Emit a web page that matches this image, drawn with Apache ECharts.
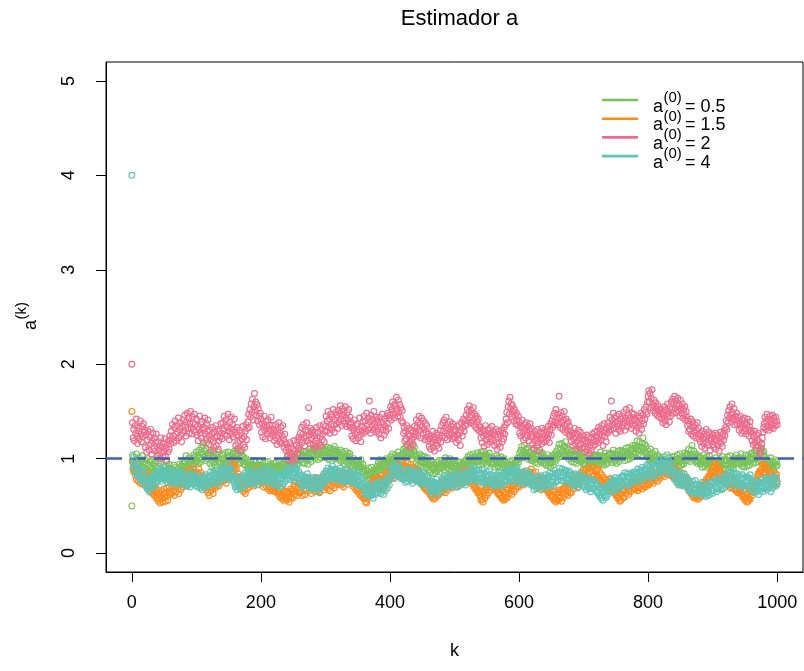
<!DOCTYPE html>
<html>
<head>
<meta charset="utf-8">
<script src="https://cdn.jsdelivr.net/npm/echarts@6/dist/echarts.min.js"></script>
<style>
  html, body { margin: 0; padding: 0; background: #ffffff; }
  #chart { width: 804px; height: 671px; }
</style>
</head>
<body>
<div id="chart"></div>
<script>
// ---- data -------------------------------------------------------------
const chartTitle = 'Estimador a';
const xTicks = [0, 200, 400, 600, 800, 1000];
const yTicks = [0, 1, 2, 3, 4, 5];
const trueValue = 1;
const startValues = ['0.5', '1.5', '2', '4'];

// a^(k) chains, k = 0 .. 1000, one per starting value a^(0)
const chainStart05 = [
0.50,0.97,0.89,1.02,0.93,0.86,0.99,1.05,0.91,0.96,0.88,1.01,0.94,0.85,0.98,0.92,1.03,0.90,0.96,0.87,
0.99,0.90,0.84,0.95,1.00,0.88,0.93,0.83,0.97,0.91,0.86,0.98,0.89,0.94,0.85,0.96,0.92,0.87,1.01,0.90,
0.83,0.92,0.86,0.79,0.90,0.95,0.84,0.88,0.81,0.93,0.87,0.80,0.91,0.85,0.96,0.82,0.89,0.84,0.94,0.87,
0.90,0.82,0.88,0.79,0.85,0.93,0.81,0.87,0.78,0.91,0.84,0.89,0.80,0.86,0.94,0.83,0.88,0.92,0.85,0.95,
0.91,0.98,0.88,0.96,1.03,0.92,0.99,0.87,0.95,1.01,0.90,0.97,0.93,0.86,1.00,0.94,1.04,0.96,1.02,0.98,
1.07,0.97,1.04,0.95,1.09,1.01,0.96,1.06,1.12,0.99,1.05,1.14,1.02,1.08,0.98,1.11,1.17,1.04,1.00,1.06,
1.03,0.95,1.06,0.98,0.92,1.02,1.08,0.96,1.01,0.93,1.05,0.99,0.91,1.04,0.97,1.07,0.94,1.00,0.96,0.90,
0.99,1.04,0.93,1.00,0.95,1.06,0.97,0.91,1.03,1.07,0.96,0.92,1.02,0.98,0.90,1.01,1.05,0.94,1.00,1.08,
1.06,0.98,1.04,1.10,0.99,1.05,0.95,1.08,1.01,0.96,1.03,1.09,0.97,1.02,0.94,0.99,0.93,1.00,0.96,0.90,
0.95,0.88,0.93,0.86,0.97,0.91,0.84,0.94,0.89,0.98,0.87,0.92,0.96,0.85,0.90,0.83,0.93,0.89,0.97,0.91,
0.86,0.93,0.88,0.95,0.84,0.91,0.87,0.96,0.89,0.83,0.92,0.97,0.86,0.90,0.85,0.94,0.88,0.92,0.84,0.91,
0.95,0.87,0.83,0.92,0.96,0.88,0.84,0.93,0.89,0.97,0.86,0.91,0.85,0.94,0.90,0.96,0.87,0.93,0.98,0.91,
0.99,0.93,1.02,0.94,0.90,0.98,1.03,0.95,0.91,1.00,1.05,0.96,0.92,1.01,0.97,0.89,0.99,1.04,0.95,1.06,
0.98,1.05,1.09,0.99,1.03,0.96,1.07,1.01,0.95,1.04,1.08,0.98,1.02,0.94,1.06,1.10,1.00,1.05,0.97,1.08,
1.02,1.10,1.04,1.13,1.00,1.08,1.12,1.03,1.07,0.99,1.09,1.05,1.14,1.01,1.06,1.11,1.04,1.08,1.02,1.10,
1.08,1.01,1.09,1.12,1.03,0.99,1.07,1.11,1.02,1.06,0.98,1.10,1.04,1.08,1.13,1.00,1.05,1.09,1.01,1.07,
1.06,0.99,1.04,1.09,0.97,1.02,1.07,0.98,1.05,0.95,1.01,1.08,0.97,1.03,0.99,1.06,0.96,1.02,1.05,0.98,
0.99,0.93,0.97,0.91,1.00,0.94,0.89,0.98,0.92,0.96,0.88,0.97,0.93,0.90,0.95,0.99,0.91,0.87,0.94,0.89,
0.86,0.81,0.88,0.83,0.78,0.87,0.82,0.90,0.84,0.79,0.85,0.91,0.80,0.86,0.83,0.77,0.88,0.84,0.81,0.89,
0.92,0.87,0.96,0.90,0.99,0.93,0.88,0.97,0.94,0.89,0.98,0.92,0.86,0.95,1.00,0.91,0.96,0.93,0.99,0.95,
0.97,1.02,0.94,0.99,1.05,0.96,0.92,1.01,1.04,0.95,0.99,0.91,1.03,1.07,0.98,0.94,1.00,1.04,0.96,1.02,
1.05,1.10,1.01,1.07,1.12,1.04,1.09,1.15,1.06,1.02,1.11,1.08,1.17,1.05,1.10,1.14,1.03,1.08,1.12,1.04,
1.02,0.96,1.04,0.99,0.93,1.01,1.05,0.97,0.92,1.00,1.03,0.95,0.91,0.99,1.02,0.94,0.97,0.90,1.01,0.96,
0.93,0.88,0.95,0.86,0.91,0.97,0.89,0.84,0.94,0.90,0.85,0.93,0.96,0.87,0.92,0.89,0.98,0.91,0.86,0.95,
0.98,0.91,0.96,0.92,0.88,0.97,1.01,0.93,0.90,0.99,0.94,0.89,0.96,1.00,0.92,0.87,0.95,0.91,0.98,0.93,
0.89,0.95,0.87,0.84,0.93,0.97,0.88,0.91,0.86,0.96,0.90,0.85,0.94,0.89,0.92,0.97,0.88,0.95,0.99,0.93,
0.96,1.02,0.94,0.99,1.04,0.95,0.92,1.01,0.97,1.05,0.98,0.93,1.02,0.96,1.00,1.06,0.97,0.94,1.03,0.99,
1.03,1.07,0.98,0.95,1.04,1.08,1.01,0.96,1.05,0.99,0.94,1.03,0.97,1.02,1.06,0.99,0.95,1.01,0.96,1.00,
0.94,1.00,0.95,0.91,0.99,1.03,0.96,0.92,1.01,0.97,0.90,0.98,1.02,0.95,0.91,0.99,0.93,1.00,0.96,0.90,
0.94,0.88,0.95,0.90,0.85,0.93,0.97,0.89,0.86,0.94,0.98,0.91,0.87,0.95,0.90,0.96,0.92,0.98,1.01,0.96,
1.00,1.06,1.02,1.09,1.13,1.04,1.01,1.08,1.14,1.06,1.02,1.10,1.04,1.11,1.03,0.99,1.07,1.01,1.06,0.98,
1.04,0.98,1.05,1.09,1.00,0.96,1.03,1.08,0.99,0.95,1.04,1.07,0.99,0.97,1.05,0.98,1.06,1.01,0.95,1.02,
0.96,1.01,0.93,0.99,1.04,0.97,0.92,1.00,0.95,0.91,0.99,1.03,0.96,0.93,1.01,1.05,0.97,1.03,1.08,1.00,
1.04,1.11,1.15,1.05,1.02,1.10,1.16,1.07,1.03,1.12,1.05,1.13,1.18,1.08,1.03,1.11,1.05,1.00,1.09,1.03,
1.05,0.97,1.03,1.09,1.00,0.96,1.04,1.08,0.99,0.95,1.03,1.07,0.98,1.05,1.10,1.01,0.97,1.06,0.99,0.95,
1.02,0.94,1.00,0.93,0.90,0.98,1.03,0.95,0.91,0.99,1.04,0.96,0.92,1.01,0.94,0.99,1.04,0.96,1.02,0.97,
1.04,0.96,1.03,0.98,0.94,1.02,1.07,0.99,0.95,1.03,0.97,0.93,1.01,1.06,0.98,0.94,1.02,0.96,1.04,0.99,
1.05,0.99,1.06,1.00,0.96,1.04,1.09,1.01,0.97,1.05,0.99,0.95,1.03,1.08,1.00,0.97,1.04,1.09,1.01,1.06,
1.08,1.01,1.08,1.02,0.98,1.06,1.11,1.03,0.99,1.07,1.12,1.04,1.00,1.09,1.02,1.10,1.14,1.05,1.02,1.11,
1.14,1.06,1.12,1.19,1.09,1.05,1.13,1.18,1.08,1.04,1.12,1.16,1.22,1.11,1.07,1.15,1.06,1.13,1.05,1.02,
1.08,1.00,0.97,1.05,1.10,1.01,0.97,1.06,0.99,0.95,1.03,1.08,1.00,0.96,1.04,0.98,0.94,1.02,0.96,1.00,
0.93,0.99,0.92,0.89,0.97,1.02,0.94,0.90,0.98,0.92,0.88,0.96,1.01,0.93,0.98,0.91,0.97,1.02,0.94,0.99,
0.95,1.02,0.94,0.91,0.99,1.04,0.96,0.92,1.00,1.05,0.97,0.93,1.02,0.95,1.00,0.94,1.01,1.06,0.98,1.03,
1.05,0.98,1.05,1.10,1.01,0.97,1.04,1.09,1.14,1.05,1.00,1.08,1.02,0.97,1.05,0.99,0.95,1.03,0.97,1.02,
1.00,0.94,1.01,0.95,0.91,0.99,1.04,0.96,0.92,1.00,0.95,1.02,0.94,0.90,0.98,1.03,0.95,0.91,0.99,0.94,
0.92,0.98,0.91,0.88,0.96,1.01,0.93,0.89,0.97,0.91,0.87,0.95,1.00,0.92,0.97,1.02,0.94,0.90,0.98,0.93,
0.99,0.93,0.98,1.02,0.94,0.90,0.98,1.03,0.95,0.91,0.99,0.93,0.89,0.97,1.01,0.94,0.99,1.04,0.96,1.00,
0.95,1.01,0.94,1.00,1.05,0.97,0.92,1.00,0.95,0.91,0.99,1.04,0.96,0.92,1.00,1.03,0.97,0.93,1.01,1.05,
1.00,1.06,0.99,0.95,1.03,1.08,1.00,0.96,1.04,1.09,1.01,0.97,1.05,0.99,1.06,1.11,1.15,1.07,1.02,1.08,
1.03,0.96,0.92,1.00,0.94,0.90,0.98,0.92,0.88,0.96,1.01,0.93,0.89,0.97,0.91,0.87,0.95,0.99,0.92,0.97,
0.93
];

const chainStart15 = [
1.50,0.98,0.90,0.86,0.95,0.87,0.82,0.78,0.88,0.84,0.76,0.86,0.79,0.74,0.84,0.77,0.83,0.73,0.81,0.75,
0.82,0.85,0.76,0.72,0.82,0.74,0.69,0.79,0.71,0.66,0.76,0.68,0.63,0.73,0.65,0.61,0.70,0.62,0.58,0.67,
0.63,0.55,0.64,0.57,0.53,0.61,0.66,0.58,0.54,0.63,0.68,0.59,0.55,0.64,0.69,0.60,0.56,0.65,0.70,0.62,
0.64,0.72,0.63,0.70,0.76,0.66,0.61,0.71,0.74,0.65,0.73,0.78,0.68,0.63,0.72,0.77,0.67,0.75,0.80,0.70,
0.74,0.82,0.73,0.80,0.86,0.76,0.71,0.81,0.85,0.75,0.83,0.88,0.78,0.74,0.84,0.89,0.79,0.76,0.85,0.77,
0.86,0.78,0.74,0.84,0.89,0.79,0.75,0.85,0.77,0.72,0.82,0.74,0.70,0.80,0.72,0.67,0.77,0.69,0.64,0.74,
0.61,0.70,0.75,0.66,0.76,0.68,0.63,0.73,0.78,0.69,0.79,0.71,0.80,0.84,0.75,0.71,0.81,0.86,0.76,0.83,
0.77,0.85,0.76,0.84,0.89,0.79,0.74,0.84,0.88,0.78,0.86,0.91,0.81,0.89,0.94,0.84,0.92,0.97,0.87,0.93,
0.90,0.82,0.89,0.81,0.76,0.84,0.76,0.71,0.81,0.73,0.68,0.78,0.70,0.65,0.75,0.67,0.63,0.73,0.77,0.68,
0.75,0.79,0.70,0.78,0.83,0.73,0.81,0.86,0.76,0.71,0.81,0.85,0.75,0.83,0.88,0.78,0.73,0.83,0.76,0.84,
0.82,0.74,0.83,0.75,0.70,0.80,0.85,0.75,0.71,0.81,0.73,0.68,0.78,0.70,0.66,0.76,0.68,0.75,0.66,0.74,
0.66,0.74,0.65,0.73,0.77,0.67,0.63,0.72,0.65,0.60,0.70,0.62,0.58,0.68,0.60,0.56,0.66,0.58,0.65,0.57,
0.64,0.56,0.65,0.58,0.54,0.64,0.68,0.59,0.66,0.58,0.67,0.72,0.62,0.70,0.75,0.65,0.61,0.70,0.74,0.64,
0.72,0.64,0.73,0.65,0.61,0.71,0.76,0.66,0.62,0.72,0.77,0.67,0.75,0.80,0.70,0.66,0.75,0.68,0.63,0.73,
0.76,0.68,0.77,0.69,0.65,0.75,0.80,0.70,0.66,0.76,0.68,0.64,0.74,0.79,0.69,0.77,0.82,0.72,0.67,0.77,
0.70,0.78,0.83,0.73,0.68,0.78,0.71,0.66,0.76,0.81,0.71,0.79,0.84,0.74,0.69,0.79,0.72,0.80,0.85,0.75,
0.81,0.73,0.82,0.87,0.77,0.72,0.82,0.74,0.70,0.80,0.85,0.75,0.83,0.88,0.78,0.73,0.83,0.76,0.86,0.77,
0.82,0.74,0.83,0.75,0.70,0.80,0.72,0.67,0.77,0.69,0.65,0.75,0.67,0.62,0.72,0.64,0.60,0.70,0.62,0.58,
0.67,0.58,0.54,0.63,0.53,0.57,0.66,0.70,0.61,0.69,0.73,0.64,0.72,0.76,0.67,0.75,0.79,0.70,0.77,0.69,
0.76,0.80,0.71,0.67,0.76,0.79,0.70,0.78,0.82,0.73,0.69,0.78,0.81,0.72,0.80,0.84,0.75,0.83,0.87,0.78,
0.85,0.89,0.80,0.88,0.92,0.83,0.79,0.88,0.91,0.82,0.90,0.94,0.85,0.81,0.90,0.93,0.84,0.92,0.96,0.87,
0.89,0.93,0.84,0.80,0.89,0.92,0.83,0.91,0.95,0.86,0.82,0.91,0.94,0.85,0.81,0.90,0.83,0.79,0.88,0.80,
0.88,0.81,0.89,0.80,0.77,0.86,0.78,0.74,0.83,0.75,0.72,0.81,0.73,0.69,0.78,0.70,0.67,0.76,0.68,0.65,
0.74,0.66,0.62,0.71,0.63,0.59,0.68,0.60,0.57,0.66,0.58,0.67,0.71,0.62,0.70,0.61,0.69,0.73,0.64,0.72,
0.66,0.74,0.65,0.73,0.77,0.68,0.64,0.73,0.76,0.67,0.75,0.79,0.70,0.78,0.82,0.73,0.69,0.78,0.81,0.72,
0.80,0.72,0.81,0.73,0.70,0.79,0.83,0.74,0.82,0.86,0.77,0.73,0.82,0.85,0.76,0.84,0.88,0.79,0.75,0.84,
0.87,0.79,0.88,0.80,0.76,0.85,0.77,0.73,0.82,0.74,0.70,0.79,0.71,0.67,0.76,0.68,0.64,0.73,0.65,0.62,
0.60,0.56,0.65,0.57,0.54,0.63,0.67,0.58,0.66,0.70,0.61,0.69,0.73,0.64,0.72,0.76,0.67,0.75,0.79,0.70,
0.77,0.69,0.78,0.70,0.66,0.75,0.67,0.63,0.72,0.64,0.61,0.70,0.62,0.58,0.67,0.59,0.56,0.65,0.57,0.64,
0.58,0.67,0.59,0.68,0.72,0.63,0.71,0.75,0.66,0.62,0.71,0.74,0.65,0.73,0.77,0.68,0.76,0.80,0.71,0.79,
0.70,0.78,0.82,0.73,0.81,0.85,0.76,0.72,0.81,0.84,0.75,0.83,0.87,0.78,0.74,0.83,0.86,0.77,0.85,0.89,
0.80,0.76,0.85,0.77,0.73,0.82,0.86,0.77,0.73,0.69,0.78,0.70,0.79,0.71,0.67,0.76,0.80,0.71,0.68,0.77,
0.79,0.71,0.67,0.76,0.68,0.64,0.73,0.65,0.61,0.70,0.62,0.59,0.68,0.60,0.56,0.65,0.57,0.54,0.63,0.56,
0.64,0.56,0.65,0.58,0.67,0.59,0.55,0.64,0.68,0.59,0.67,0.71,0.62,0.70,0.74,0.65,0.61,0.70,0.73,0.64,
0.72,0.64,0.73,0.77,0.68,0.76,0.80,0.71,0.79,0.83,0.74,0.70,0.79,0.82,0.73,0.81,0.85,0.76,0.84,0.88,
0.83,0.75,0.84,0.88,0.79,0.76,0.85,0.89,0.80,0.77,0.86,0.90,0.81,0.78,0.87,0.91,0.82,0.78,0.87,0.80,
0.88,0.80,0.89,0.81,0.77,0.86,0.78,0.74,0.83,0.75,0.71,0.80,0.72,0.69,0.78,0.70,0.77,0.69,0.66,0.75,
0.78,0.70,0.79,0.71,0.67,0.76,0.68,0.64,0.73,0.65,0.61,0.70,0.62,0.58,0.67,0.59,0.55,0.64,0.56,0.63,
0.66,0.58,0.67,0.59,0.68,0.72,0.63,0.71,0.75,0.66,0.62,0.71,0.74,0.65,0.73,0.77,0.68,0.76,0.68,0.75,
0.67,0.75,0.79,0.70,0.66,0.75,0.78,0.69,0.77,0.81,0.72,0.68,0.77,0.80,0.71,0.79,0.70,0.78,0.82,0.73,
0.81,0.72,0.80,0.84,0.75,0.83,0.87,0.78,0.74,0.83,0.86,0.77,0.85,0.89,0.80,0.76,0.85,0.88,0.79,0.87,
0.91,0.82,0.90,0.94,0.85,0.81,0.90,0.93,0.84,0.92,0.96,0.87,0.83,0.92,0.95,0.86,0.82,0.91,0.84,0.80,
0.89,0.81,0.90,0.82,0.78,0.87,0.79,0.75,0.84,0.76,0.72,0.81,0.85,0.76,0.72,0.81,0.73,0.80,0.72,0.79,
0.71,0.79,0.70,0.66,0.75,0.67,0.63,0.72,0.64,0.60,0.69,0.61,0.58,0.67,0.59,0.68,0.60,0.57,0.66,0.58,
0.61,0.69,0.60,0.68,0.72,0.63,0.71,0.75,0.66,0.74,0.78,0.69,0.77,0.81,0.72,0.80,0.84,0.75,0.83,0.87,
0.90,0.82,0.91,0.95,0.85,0.81,0.90,0.93,0.84,0.80,0.89,0.81,0.77,0.86,0.78,0.75,0.84,0.76,0.83,0.75,
0.82,0.74,0.83,0.75,0.72,0.81,0.73,0.69,0.78,0.70,0.77,0.81,0.72,0.68,0.77,0.69,0.66,0.75,0.67,0.64,
0.73,0.65,0.74,0.66,0.62,0.71,0.63,0.59,0.68,0.60,0.56,0.65,0.57,0.54,0.63,0.55,0.58,0.66,0.57,0.65,
0.69,0.61,0.70,0.74,0.65,0.73,0.77,0.68,0.76,0.80,0.84,0.75,0.83,0.87,0.78,0.86,0.90,0.94,0.85,0.93,
0.91,0.83,0.92,0.84,0.80,0.89,0.81,0.77,0.86,0.78,0.74,0.83,0.75,0.72,0.81,0.73,0.80,0.84,0.75,0.83,
0.76
];

const chainStart2 = [
2.00,1.38,1.22,1.31,1.19,1.35,1.27,1.42,1.24,1.16,1.33,1.29,1.21,1.40,1.26,1.18,1.34,1.23,1.37,1.28,
1.30,1.12,1.25,1.07,1.20,1.29,1.14,1.09,1.23,1.31,1.16,1.05,1.19,1.27,1.11,1.22,1.08,1.17,1.26,1.13,
1.04,1.18,1.09,1.00,1.14,1.22,1.06,1.12,1.02,1.16,1.08,1.21,1.03,1.11,0.98,1.15,1.07,1.19,1.10,1.24,
1.16,1.29,1.21,1.36,1.24,1.17,1.33,1.40,1.26,1.19,1.35,1.28,1.43,1.22,1.31,1.38,1.25,1.18,1.34,1.27,
1.41,1.29,1.46,1.35,1.24,1.39,1.48,1.32,1.43,1.27,1.37,1.50,1.33,1.26,1.44,1.38,1.30,1.47,1.36,1.28,
1.42,1.25,1.34,1.19,1.31,1.45,1.27,1.36,1.22,1.39,1.30,1.17,1.33,1.43,1.26,1.21,1.37,1.29,1.41,1.24,
1.15,1.30,1.20,1.09,1.26,1.33,1.18,1.12,1.28,1.22,1.35,1.14,1.24,1.31,1.10,1.19,1.29,1.23,1.37,1.27,
1.21,1.38,1.30,1.45,1.26,1.35,1.41,1.24,1.33,1.47,1.29,1.20,1.39,1.32,1.44,1.27,1.36,1.23,1.31,1.42,
1.28,1.14,1.25,1.33,1.17,1.10,1.24,1.30,1.19,1.08,1.27,1.21,1.34,1.15,1.23,1.12,1.29,1.36,1.20,1.32,
1.39,1.47,1.33,1.52,1.44,1.58,1.49,1.63,1.41,1.55,1.69,1.51,1.60,1.46,1.57,1.40,1.53,1.45,1.36,1.48,
1.42,1.28,1.37,1.23,1.34,1.45,1.30,1.21,1.39,1.33,1.26,1.41,1.29,1.36,1.22,1.31,1.44,1.27,1.35,1.24,
1.31,1.19,1.28,1.36,1.22,1.15,1.30,1.25,1.38,1.18,1.27,1.33,1.16,1.24,1.35,1.20,1.12,1.26,1.17,1.09,
1.15,1.03,1.11,0.98,1.07,1.17,1.01,1.12,1.05,0.97,1.10,1.19,1.02,1.08,0.99,1.14,1.06,1.20,1.11,1.23,
1.14,1.27,1.20,1.33,1.17,1.26,1.36,1.22,1.13,1.30,1.24,1.38,1.19,1.29,1.54,1.25,1.16,1.32,1.21,1.28,
1.30,1.15,1.24,1.11,1.27,1.19,1.33,1.22,1.13,1.28,1.17,1.35,1.23,1.14,1.31,1.20,1.26,1.36,1.18,1.29,
1.34,1.45,1.29,1.40,1.50,1.33,1.42,1.27,1.47,1.36,1.31,1.44,1.52,1.35,1.28,1.41,1.49,1.37,1.46,1.32,
1.51,1.39,1.48,1.56,1.42,1.35,1.53,1.46,1.40,1.50,1.37,1.55,1.43,1.34,1.49,1.41,1.52,1.36,1.44,1.33,
1.38,1.24,1.33,1.21,1.30,1.41,1.26,1.19,1.35,1.28,1.37,1.22,1.31,1.43,1.25,1.18,1.34,1.29,1.39,1.27,
1.45,1.32,1.40,1.29,1.48,1.36,1.43,1.31,1.61,1.39,1.27,1.46,1.35,1.42,1.30,1.50,1.37,1.33,1.44,1.28,
1.41,1.30,1.38,1.26,1.44,1.33,1.22,1.39,1.47,1.31,1.36,1.25,1.42,1.34,1.29,1.45,1.37,1.48,1.32,1.43,
1.46,1.55,1.41,1.52,1.60,1.47,1.56,1.43,1.58,1.50,1.65,1.53,1.45,1.62,1.49,1.57,1.44,1.54,1.40,1.51,
1.38,1.27,1.33,1.19,1.29,1.21,1.35,1.14,1.26,1.32,1.17,1.24,1.12,1.30,1.20,1.28,1.15,1.23,1.34,1.26,
1.29,1.41,1.33,1.24,1.38,1.45,1.30,1.36,1.22,1.43,1.34,1.27,1.40,1.31,1.20,1.37,1.28,1.35,1.23,1.19,
1.26,1.13,1.21,1.10,1.24,1.17,1.29,1.12,1.20,1.08,1.23,1.16,1.27,1.14,1.19,1.25,1.11,1.22,1.30,1.18,
1.35,1.24,1.38,1.29,1.41,1.22,1.33,1.44,1.27,1.20,1.36,1.31,1.25,1.39,1.28,1.34,1.21,1.37,1.30,1.23,
1.31,1.22,1.29,1.17,1.34,1.25,1.20,1.36,1.27,1.14,1.30,1.38,1.24,1.33,1.42,1.29,1.40,1.35,1.46,1.37,
1.52,1.41,1.49,1.56,1.44,1.38,1.51,1.46,1.40,1.54,1.36,1.47,1.43,1.33,1.45,1.39,1.31,1.42,1.35,1.29,
1.33,1.22,1.28,1.17,1.31,1.24,1.13,1.29,1.35,1.20,1.26,1.15,1.30,1.23,1.32,1.18,1.27,1.21,1.34,1.25,
1.19,1.28,1.14,1.25,1.31,1.17,1.10,1.23,1.29,1.16,1.26,1.12,1.24,1.30,1.18,1.27,1.21,1.33,1.26,1.36,
1.42,1.49,1.38,1.55,1.61,1.47,1.65,1.53,1.58,1.44,1.56,1.50,1.40,1.52,1.46,1.37,1.48,1.41,1.35,1.45,
1.39,1.27,1.35,1.24,1.33,1.41,1.28,1.20,1.36,1.31,1.22,1.38,1.29,1.25,1.34,1.19,1.30,1.37,1.23,1.32,
1.26,1.15,1.23,1.11,1.29,1.19,1.25,1.13,1.21,1.31,1.17,1.24,1.09,1.28,1.20,1.32,1.16,1.22,1.27,1.18,
1.24,1.31,1.19,1.28,1.22,1.34,1.26,1.17,1.30,1.37,1.25,1.40,1.33,1.45,1.36,1.48,1.39,1.52,1.43,1.38,
1.47,1.36,1.66,1.43,1.33,1.49,1.38,1.45,1.31,1.41,1.50,1.35,1.28,1.42,1.37,1.30,1.39,1.26,1.34,1.24,
1.29,1.18,1.25,1.14,1.27,1.21,1.32,1.16,1.23,1.10,1.26,1.19,1.30,1.13,1.22,1.28,1.15,1.20,1.11,1.24,
1.21,1.12,1.19,1.07,1.16,1.25,1.10,1.18,1.23,1.06,1.14,1.22,1.09,1.17,1.26,1.13,1.20,1.28,1.15,1.24,
1.19,1.29,1.22,1.33,1.17,1.26,1.31,1.20,1.35,1.24,1.14,1.28,1.37,1.23,1.30,1.18,1.32,1.27,1.38,1.29,
1.34,1.44,1.30,1.61,1.41,1.36,1.48,1.32,1.43,1.38,1.27,1.45,1.35,1.40,1.31,1.47,1.37,1.29,1.42,1.33,
1.45,1.36,1.49,1.38,1.30,1.43,1.52,1.39,1.34,1.46,1.41,1.54,1.37,1.44,1.32,1.48,1.40,1.35,1.47,1.42,
1.36,1.29,1.41,1.33,1.45,1.38,1.27,1.43,1.35,1.48,1.31,1.40,1.46,1.37,1.52,1.42,1.49,1.55,1.47,1.60,
1.66,1.72,1.60,1.69,1.54,1.64,1.73,1.57,1.51,1.62,1.55,1.48,1.59,1.53,1.46,1.56,1.50,1.44,1.52,1.47,
1.53,1.42,1.49,1.38,1.46,1.55,1.40,1.51,1.36,1.47,1.58,1.44,1.50,1.39,1.54,1.45,1.60,1.52,1.63,1.48,
1.59,1.66,1.53,1.61,1.49,1.57,1.64,1.51,1.56,1.45,1.62,1.54,1.48,1.58,1.43,1.52,1.47,1.55,1.41,1.50,
1.44,1.35,1.40,1.29,1.37,1.31,1.42,1.26,1.34,1.39,1.24,1.33,1.28,1.36,1.22,1.30,1.38,1.25,1.32,1.21,
1.27,1.18,1.24,1.13,1.29,1.21,1.16,1.26,1.11,1.23,1.31,1.17,1.25,1.14,1.28,1.20,1.09,1.22,1.19,1.26,
1.15,1.24,1.12,1.21,1.27,1.10,1.19,1.25,1.14,1.22,1.08,1.18,1.28,1.16,1.23,1.13,1.26,1.20,1.30,1.24,
1.33,1.40,1.31,1.46,1.38,1.51,1.43,1.55,1.47,1.39,1.58,1.49,1.42,1.53,1.36,1.45,1.41,1.48,1.37,1.44,
1.40,1.30,1.37,1.45,1.33,1.27,1.41,1.35,1.29,1.43,1.32,1.38,1.26,1.36,1.42,1.31,1.24,1.34,1.39,1.28,
1.30,1.19,1.26,1.15,1.23,1.29,1.17,1.12,1.25,1.20,1.14,1.27,1.18,1.08,1.05,1.11,1.16,1.22,1.28,1.33,
1.37,1.44,1.31,1.40,1.47,1.34,1.42,1.30,1.39,1.45,1.33,1.41,1.36,1.46,1.32,1.43,1.38,1.35,1.44,1.40,
1.36
];

const chainStart4 = [
4.00,1.04,0.95,0.91,0.98,0.89,0.85,0.94,0.86,0.82,0.91,0.83,0.79,0.88,0.80,0.76,0.85,0.77,0.86,0.78,
0.79,0.71,0.80,0.72,0.68,0.77,0.69,0.65,0.74,0.78,0.69,0.77,0.81,0.72,0.80,0.71,0.79,0.83,0.74,0.82,
0.86,0.77,0.85,0.89,0.80,0.76,0.85,0.88,0.79,0.87,0.91,0.82,0.78,0.87,0.79,0.75,0.84,0.88,0.79,0.76,
0.84,0.76,0.85,0.77,0.73,0.82,0.86,0.77,0.74,0.83,0.87,0.78,0.75,0.84,0.76,0.72,0.81,0.85,0.76,0.83,
0.75,0.83,0.74,0.71,0.80,0.84,0.75,0.72,0.81,0.73,0.70,0.79,0.83,0.74,0.82,0.86,0.77,0.73,0.82,0.75,
0.71,0.79,0.70,0.78,0.82,0.73,0.69,0.78,0.71,0.67,0.76,0.80,0.71,0.79,0.83,0.74,0.70,0.79,0.72,0.81,
0.74,0.82,0.86,0.77,0.73,0.82,0.85,0.76,0.84,0.88,0.79,0.75,0.84,0.76,0.73,0.82,0.86,0.77,0.85,0.89,
0.80,0.88,0.79,0.87,0.91,0.82,0.78,0.87,0.90,0.81,0.89,0.93,0.84,0.80,0.89,0.81,0.77,0.86,0.78,0.74,
0.70,0.79,0.71,0.67,0.76,0.80,0.71,0.68,0.77,0.81,0.72,0.69,0.78,0.82,0.73,0.81,0.85,0.76,0.72,0.81,
0.84,0.75,0.83,0.87,0.78,0.74,0.83,0.86,0.77,0.73,0.82,0.86,0.77,0.85,0.76,0.72,0.81,0.85,0.78,0.86,
0.79,0.87,0.78,0.75,0.84,0.88,0.79,0.76,0.85,0.89,0.80,0.76,0.85,0.77,0.74,0.83,0.87,0.78,0.86,0.77,
0.73,0.81,0.72,0.80,0.84,0.75,0.71,0.80,0.83,0.74,0.70,0.79,0.83,0.74,0.82,0.73,0.81,0.85,0.76,0.84,
0.88,0.79,0.87,0.91,0.82,0.78,0.87,0.90,0.81,0.89,0.80,0.76,0.85,0.89,0.80,0.88,0.92,0.83,0.79,0.86,
0.82,0.74,0.83,0.75,0.71,0.80,0.72,0.68,0.77,0.81,0.72,0.80,0.84,0.75,0.71,0.80,0.73,0.69,0.78,0.70,
0.68,0.76,0.80,0.71,0.67,0.76,0.79,0.70,0.78,0.69,0.65,0.74,0.78,0.69,0.77,0.81,0.72,0.80,0.84,0.75,
0.79,0.87,0.78,0.86,0.90,0.81,0.77,0.86,0.89,0.80,0.88,0.92,0.83,0.79,0.88,0.80,0.89,0.81,0.77,0.86,
0.87,0.78,0.86,0.90,0.81,0.77,0.86,0.78,0.75,0.84,0.88,0.79,0.76,0.85,0.89,0.80,0.76,0.85,0.77,0.84,
0.76,0.84,0.75,0.83,0.87,0.78,0.74,0.83,0.76,0.72,0.81,0.85,0.76,0.72,0.81,0.73,0.70,0.79,0.71,0.68,
0.74,0.66,0.62,0.71,0.63,0.72,0.64,0.60,0.69,0.73,0.64,0.61,0.70,0.62,0.58,0.67,0.71,0.62,0.70,0.74,
0.65,0.73,0.64,0.72,0.76,0.67,0.63,0.72,0.75,0.66,0.62,0.71,0.75,0.66,0.74,0.78,0.69,0.77,0.81,0.72,
0.78,0.86,0.90,0.81,0.89,0.93,0.84,0.80,0.89,0.92,0.83,0.91,0.95,0.86,0.82,0.91,0.83,0.79,0.88,0.80,
0.86,0.78,0.87,0.79,0.75,0.84,0.88,0.79,0.76,0.85,0.89,0.80,0.77,0.86,0.78,0.74,0.83,0.87,0.78,0.85,
0.77,0.85,0.76,0.84,0.88,0.79,0.75,0.84,0.77,0.73,0.82,0.86,0.77,0.74,0.83,0.75,0.72,0.81,0.73,0.80,
0.76,0.68,0.77,0.69,0.65,0.74,0.66,0.62,0.71,0.75,0.66,0.74,0.78,0.69,0.65,0.74,0.67,0.63,0.72,0.76,
0.71,0.79,0.70,0.78,0.82,0.73,0.69,0.78,0.81,0.72,0.80,0.71,0.79,0.83,0.74,0.70,0.79,0.82,0.73,0.81,
0.75,0.83,0.74,0.70,0.79,0.83,0.74,0.71,0.80,0.84,0.75,0.83,0.87,0.78,0.74,0.83,0.75,0.72,0.81,0.85,
0.78,0.86,0.77,0.85,0.89,0.80,0.76,0.85,0.88,0.79,0.87,0.91,0.82,0.78,0.87,0.79,0.75,0.84,0.88,0.79,
0.85,0.76,0.84,0.88,0.79,0.75,0.84,0.77,0.73,0.82,0.86,0.77,0.74,0.83,0.87,0.78,0.74,0.83,0.75,0.82,
0.76,0.72,0.81,0.73,0.70,0.79,0.83,0.74,0.82,0.86,0.77,0.73,0.82,0.74,0.71,0.80,0.84,0.75,0.83,0.76,
0.78,0.86,0.77,0.85,0.89,0.80,0.76,0.85,0.88,0.79,0.87,0.78,0.75,0.84,0.88,0.79,0.87,0.91,0.82,0.78,
0.84,0.76,0.85,0.77,0.73,0.82,0.86,0.77,0.74,0.83,0.87,0.78,0.75,0.84,0.76,0.85,0.77,0.73,0.82,0.75,
0.72,0.80,0.71,0.67,0.76,0.80,0.71,0.68,0.77,0.81,0.72,0.69,0.78,0.82,0.73,0.81,0.72,0.69,0.78,0.71,
0.75,0.83,0.74,0.70,0.79,0.82,0.73,0.81,0.85,0.76,0.72,0.81,0.84,0.75,0.71,0.80,0.84,0.75,0.83,0.77,
0.85,0.77,0.86,0.90,0.81,0.77,0.86,0.89,0.80,0.76,0.85,0.88,0.79,0.87,0.78,0.74,0.83,0.87,0.78,0.85,
0.82,0.74,0.83,0.75,0.71,0.80,0.84,0.75,0.72,0.81,0.73,0.69,0.78,0.82,0.73,0.81,0.85,0.76,0.72,0.79,
0.78,0.70,0.79,0.71,0.67,0.76,0.80,0.71,0.68,0.77,0.69,0.65,0.74,0.78,0.69,0.77,0.68,0.76,0.69,0.66,
0.72,0.64,0.73,0.65,0.61,0.70,0.62,0.58,0.67,0.59,0.56,0.65,0.69,0.60,0.68,0.59,0.67,0.71,0.62,0.70,
0.73,0.65,0.74,0.78,0.69,0.65,0.74,0.77,0.68,0.76,0.80,0.71,0.67,0.76,0.79,0.70,0.78,0.69,0.77,0.81,
0.74,0.82,0.73,0.81,0.85,0.76,0.72,0.81,0.84,0.75,0.71,0.80,0.84,0.75,0.83,0.74,0.82,0.86,0.77,0.85,
0.78,0.86,0.77,0.85,0.89,0.80,0.76,0.85,0.88,0.79,0.87,0.91,0.82,0.78,0.87,0.90,0.81,0.89,0.93,0.84,
0.91,0.83,0.92,0.84,0.80,0.89,0.93,0.84,0.81,0.90,0.94,0.85,0.82,0.91,0.95,0.86,0.94,0.98,0.89,0.85,
0.92,0.96,0.87,0.95,0.99,0.90,0.86,0.95,0.98,1.04,0.93,0.89,0.98,0.90,0.86,0.95,0.87,0.83,0.92,0.84,
0.86,0.78,0.87,0.79,0.75,0.84,0.76,0.72,0.81,0.85,0.76,0.73,0.82,0.74,0.71,0.80,0.84,0.75,0.72,0.81,
0.77,0.69,0.78,0.70,0.66,0.75,0.67,0.63,0.72,0.76,0.67,0.64,0.73,0.77,0.68,0.64,0.73,0.65,0.62,0.71,
0.64,0.72,0.63,0.71,0.75,0.66,0.62,0.71,0.64,0.60,0.69,0.73,0.64,0.61,0.70,0.62,0.71,0.75,0.66,0.63,
0.67,0.75,0.66,0.74,0.78,0.69,0.65,0.74,0.77,0.68,0.76,0.80,0.71,0.67,0.76,0.68,0.77,0.69,0.78,0.82,
0.75,0.83,0.74,0.82,0.86,0.77,0.73,0.82,0.85,0.76,0.72,0.81,0.85,0.76,0.84,0.75,0.71,0.80,0.84,0.75,
0.81,0.73,0.82,0.74,0.70,0.79,0.83,0.74,0.71,0.80,0.72,0.68,0.77,0.81,0.72,0.80,0.71,0.79,0.83,0.74,
0.75,0.67,0.76,0.68,0.64,0.73,0.77,0.68,0.65,0.74,0.66,0.62,0.71,0.75,0.66,0.74,0.78,0.69,0.65,0.74,
0.68,0.76,0.80,0.71,0.67,0.76,0.79,0.70,0.78,0.69,0.65,0.74,0.78,0.69,0.77,0.81,0.72,0.80,0.71,0.79,
0.73
];

// ---- styling ----------------------------------------------------------
const FONT = '"Liberation Sans", Arial, Helvetica, sans-serif';
const chains = [chainStart05, chainStart15, chainStart2, chainStart4];
const colors = ['#79C25A', '#FF8A1C', '#EE6A8A', '#5EC4B6'];
const refColor = '#3D5DB9';

const grid = { left: 106, top: 62, width: 697, height: 510 };

const toPoints = arr => arr.map((v, k) => [k, v]);

const scatterSeries = chains.map((arr, i) => ({
  type: 'scatter',
  name: 'a0=' + startValues[i],
  data: toPoints(arr),
  symbol: 'circle',
  symbolSize: 5.8,
  silent: true,
  itemStyle: { color: 'rgba(0,0,0,0)', borderColor: colors[i], borderWidth: 1.15, opacity: 1 },
  emphasis: { disabled: true },
  z: 2 + i
}));

// horizontal reference line at the true value
scatterSeries.push({
  type: 'scatter',
  name: 'ref',
  data: [],
  silent: true,
  z: 20,
  markLine: {
    silent: true,
    symbol: ['none', 'none'],
    label: { show: false },
    animation: false,
    lineStyle: { color: refColor, width: 2.6, type: [16, 8] },
    data: [{ yAxis: trueValue }]
  }
});

// plain text piece, vertically centred on y
const textPiece = (x, y, text, size) => ({
  type: 'text',
  silent: true,
  x: x,
  y: y,
  style: { text: text, fontFamily: FONT, fontSize: size, fill: '#000', align: 'left', verticalAlign: 'middle' }
});

// legend: coloured line + "a^(0) = value", built from base symbol and raised superscript
const legendX = 602, legendLine0 = 100, legendBase0 = 113, legendStep = 18.7;
const extraGraphics = [];
startValues.forEach((sv, i) => {
  const ly = legendLine0 + legendStep * i;
  const base = legendBase0 + legendStep * i;
  extraGraphics.push({
    type: 'line',
    silent: true,
    shape: { x1: legendX, y1: ly, x2: legendX + 36, y2: ly },
    style: { stroke: colors[i], lineWidth: 2.6 }
  });
  extraGraphics.push(textPiece(653, base - 6.2, 'a', 18));
  extraGraphics.push(textPiece(663.5, base - 15.2, '(0)', 15));
  extraGraphics.push(textPiece(685, base - 6.2, '= ' + sv, 18));
});

// y axis title a^(k), rotated to read upwards
extraGraphics.push({
  type: 'group',
  silent: true,
  x: 37.5,
  y: 330,
  rotation: Math.PI / 2,
  children: [
    textPiece(0, -6.2, 'a', 18),
    textPiece(10.5, -15.2, '(k)', 15)
  ]
});

const axisCommon = {
  type: 'value',
  splitLine: { show: false },
  axisLine: { show: true, onZero: false, lineStyle: { color: '#000', width: 1 } },
  axisTick: { show: true, inside: false, length: 10, lineStyle: { color: '#000', width: 1 } }
};

const option = {
  animation: false,
  backgroundColor: '#ffffff',
  title: {
    text: chartTitle,
    left: grid.left + grid.width / 2,
    top: 3,
    textAlign: 'center',
    textStyle: { fontFamily: FONT, fontSize: 22, fontWeight: 'normal', color: '#000' }
  },
  grid: Object.assign({ show: true, borderColor: '#000', borderWidth: 1, backgroundColor: 'transparent', containLabel: false }, grid),
  xAxis: Object.assign({}, axisCommon, {
    min: -40,
    max: 1040,
    axisTick: Object.assign({}, axisCommon.axisTick, { customValues: xTicks }),
    axisLabel: { customValues: xTicks, formatter: v => String(v), fontFamily: FONT, fontSize: 18, color: '#000', margin: 22 },
    name: 'k',
    nameLocation: 'middle',
    nameGap: 70,
    nameTextStyle: { fontFamily: FONT, fontSize: 18, color: '#000' }
  }),
  yAxis: Object.assign({}, axisCommon, {
    min: -0.2,
    max: 5.2,
    axisTick: Object.assign({}, axisCommon.axisTick, { customValues: yTicks }),
    axisLabel: { customValues: yTicks, formatter: v => String(v), rotate: 90, fontFamily: FONT, fontSize: 18, color: '#000', margin: 28 }
  }),
  graphic: extraGraphics,
  series: scatterSeries
};

const chart = echarts.init(document.getElementById('chart'), null, { renderer: 'canvas' });
chart.setOption(option);
</script>
</body>
</html>
